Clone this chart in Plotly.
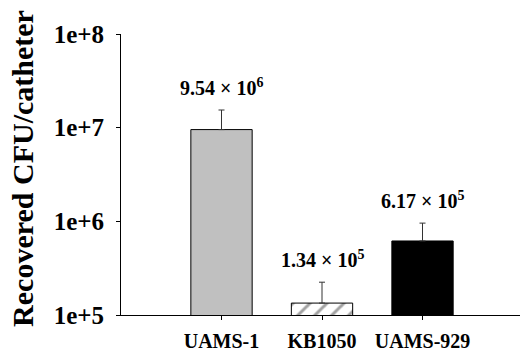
import plotly.graph_objects as go
import math

categories = ["UAMS-1", "KB1050", "UAMS-929"]
values = [9.54e6, 1.34e5, 6.17e5]
errors = [5.9e6, 9.0e4, 3.4e5]
labels = ["9.54 × 10<sup>6</sup>", "1.34 × 10<sup>5</sup>", "6.17 × 10<sup>5</sup>"]
ytick_vals = [1e5, 1e6, 1e7, 1e8]
ytick_text = ["1e+5", "1e+6", "1e+7", "1e+8"]
y_title = "Recovered CFU/catheter"

colors = ["#c0c0c0", "white", "black"]
shapes = ["", "/", ""]

FONT = "Liberation Serif, Times New Roman, serif"

fig = go.Figure()
fig.add_trace(go.Bar(
    x=categories, y=values, width=0.61,
    marker=dict(color=colors, line=dict(color="black", width=1),
                pattern=dict(shape=shapes, fgcolor="black", bgcolor="white", size=12, solidity=0.25)),
    error_y=dict(type="data", array=errors, arrayminus=[0, 0, 0], symmetric=False,
                 color="#333333", thickness=1, width=3),
))

for c, v, e, t in zip(categories, values, errors, labels):
    fig.add_annotation(x=c, y=math.log10(v + e), text="<b>" + t + "</b>", showarrow=False,
                       yanchor="bottom", yshift=9,
                       font=dict(family=FONT, size=20, color="black"))

# y-axis title as rotated annotation (placed at left edge of figure)
fig.add_annotation(xref="paper", yref="paper", x=-0.2456, y=0.52, text="<b>" + y_title + "</b>",
                   textangle=-90, showarrow=False, xanchor="center", yanchor="middle",
                   font=dict(family=FONT, size=30, color="black"))

fig.update_layout(
    width=520, height=356,
    margin=dict(l=121, r=0, t=34, b=41),
    paper_bgcolor="white", plot_bgcolor="white",
    showlegend=False,
    font=dict(family=FONT, color="black"),
)
fig.update_xaxes(
    range=[-1.0, 2.97], showline=True, linecolor="black", linewidth=1,
    ticks="outside", ticklen=4, tickcolor="black", showgrid=False,
    tickfont=dict(family=FONT, size=20, color="black"),
    tickprefix="<b>", ticksuffix="</b>", ticklabelstandoff=4, automargin=False,
)
fig.update_yaxes(
    type="log", range=[5, 8], showline=True, linecolor="black", linewidth=1,
    ticks="outside", ticklen=4, tickcolor="black", showgrid=False, zeroline=False,
    tickvals=ytick_vals, ticktext=["<b>" + t + "</b>" for t in ytick_text],
    tickfont=dict(family=FONT, size=25, color="black"), ticklabelstandoff=7,
    automargin=False,
)

fig.write_html("out.html", config={"displayModeBar": False},
               post_script="document.body.style.margin='0';document.body.style.overflow='hidden';")
